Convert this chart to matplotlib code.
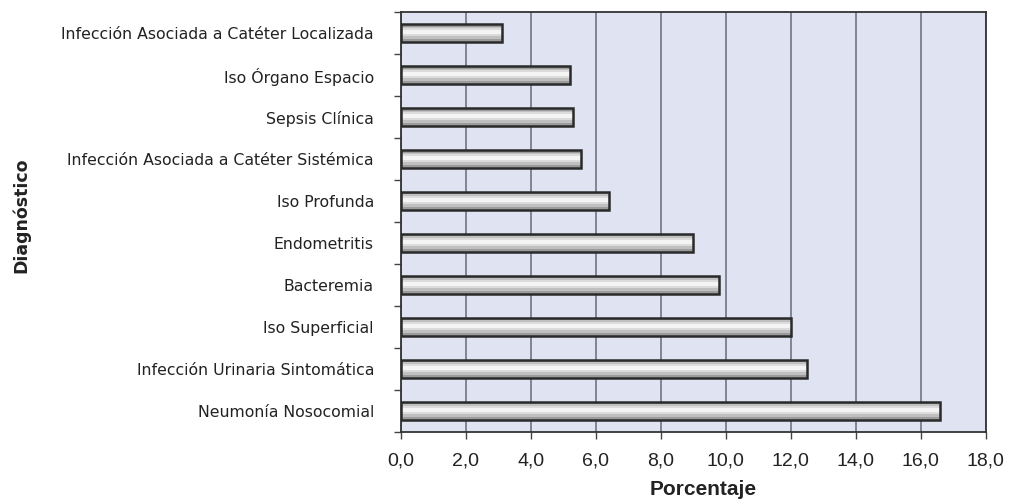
"""Diagnosticos de infeccion intrahospitalaria: porcentaje por tipo."""

import matplotlib.pyplot as plt
import numpy as np
from matplotlib.ticker import FixedLocator, FuncFormatter

DIAGNOSTICOS = [
    "Neumonía Nosocomial",
    "Infección Urinaria Sintomática",
    "Iso Superficial",
    "Bacteremia",
    "Endometritis",
    "Iso Profunda",
    "Infección Asociada a Catéter Sistémica",
    "Sepsis Clínica",
    "Iso Órgano Espacio",
    "Infección Asociada a Catéter Localizada",
]
PORCENTAJES = [16.6, 12.5, 12.0, 9.8, 9.0, 6.4, 5.55, 5.3, 5.2, 3.1]
TICKS_X = [0, 2, 4, 6, 8, 10, 12, 14, 16, 18]

ALTO_BARRA = 0.42
# bandas del "cilindro", de abajo hacia arriba: (desde, alto, color)
CAPAS = [
    (0.00, 1.00, "#9c9c9c"),
    (0.15, 0.72, "#c0c0c0"),
    (0.32, 0.45, "#dcdcdc"),
    (0.45, 0.22, "#f4f4f4"),
]

fig = plt.figure(figsize=(10.1, 5.04), dpi=100)
ax = fig.add_axes([0.397, 0.143, 0.579, 0.833])
ax.set_facecolor("#dfe3f2")

y = np.arange(len(DIAGNOSTICOS))
base = y - ALTO_BARRA / 2
for desde, alto, color in CAPAS:
    ax.barh(base + desde * ALTO_BARRA, PORCENTAJES, height=alto * ALTO_BARRA,
            align="edge", color=color, linewidth=0, zorder=3)
ax.barh(y, PORCENTAJES, height=ALTO_BARRA, fill=False,
        edgecolor="#2a2a2a", linewidth=1.8, zorder=4)

ax.set_xlim(0, 18)
ax.set_ylim(-0.5, len(DIAGNOSTICOS) - 0.5)
ax.xaxis.set_major_locator(FixedLocator(TICKS_X))
ax.xaxis.set_major_formatter(
    FuncFormatter(lambda v, _: f"{v:.1f}".replace(".", ",")))
ax.grid(axis="x", color="#6a6a78", linewidth=1.1, zorder=1)

ax.set_yticks(y)
ax.set_yticklabels(DIAGNOSTICOS)
ax.set_yticks(np.arange(-0.5, len(DIAGNOSTICOS)), minor=True)
ax.tick_params(axis="y", which="major", length=0, pad=19.5, labelsize=11.3,
               labelcolor="#222222", labelfontfamily="DejaVu Sans")
ax.tick_params(axis="y", which="minor", length=5, width=1, color="#444444")
ax.tick_params(axis="x", length=5, width=1, color="#444444", labelsize=14,
               labelcolor="#222222", pad=10,
               labelfontfamily="Liberation Sans")

for lado in ax.spines.values():
    lado.set_color("#333333")
    lado.set_linewidth(1.3)

ax.set_xlabel("Porcentaje", fontsize=15, fontweight="bold",
              family="Liberation Sans", color="#222222", labelpad=9)
ax.xaxis.set_label_coords(0.516, -0.115)
fig.text(0.021, 0.573, "Diagnóstico", rotation=90, fontsize=12.5,
         fontweight="bold", family="DejaVu Sans", color="#222222",
         ha="center", va="center")

fig.savefig("out.png", dpi=100)
